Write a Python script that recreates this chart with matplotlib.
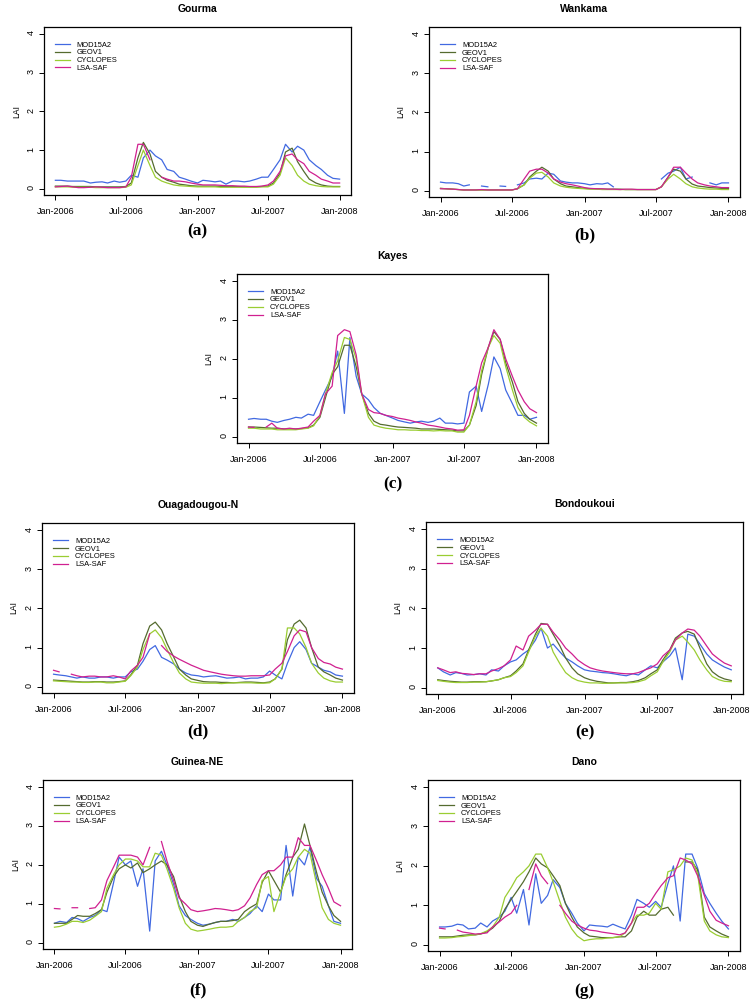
import numpy as np
import pandas as pd
import matplotlib
matplotlib.use('Agg')
import matplotlib.pyplot as plt

plt.rcParams['font.family'] = ['Liberation Sans', 'DejaVu Sans']

nan = np.nan

# semi-monthly sampling, Jan-2006 .. Jan-2008 (49 points)
dates = pd.date_range('2006-01-01', '2008-01-01', freq='SMS')

tickDates = pd.to_datetime(['2006-01-01', '2006-07-01', '2007-01-01', '2007-07-01', '2008-01-01'])
tickLabels = ['Jan-2006', 'Jul-2006', 'Jan-2007', 'Jul-2007', 'Jan-2008']
products = ['MOD15A2', 'GEOV1', 'CYCLOPES', 'LSA-SAF']

# Gourma
gourma_modis = [0.22, 0.22, 0.2, 0.2, 0.2, 0.2, 0.15, 0.17, 0.18, 0.15, 0.2, 0.17,
                0.2, 0.35, 0.3, 0.8, 1.0, 0.85, 0.75, 0.5, 0.45, 0.3, 0.25, 0.2,
                0.15, 0.22, 0.2, 0.18, 0.2, 0.12, 0.2, 0.2, 0.18, 0.2, 0.25, 0.3,
                0.3, 0.5, 0.75, 1.15, 0.95, 1.1, 1.0, 0.75, 0.6, 0.5, 0.35, 0.27, 0.25]
gourma_geov1 = [0.07, 0.07, 0.07, 0.06, 0.06, 0.06, 0.06, 0.05, 0.05, 0.05, 0.05, 0.05,
                0.06, 0.15, 0.8, 1.2, 0.9, 0.45, 0.3, 0.22, 0.17, 0.12, 0.1, 0.08,
                0.07, 0.07, 0.07, 0.07, 0.06, 0.06, 0.06, 0.06, 0.05, 0.05, 0.05, 0.06,
                0.07, 0.15, 0.4, 0.95, 1.05, 0.7, 0.45, 0.25, 0.15, 0.1, 0.07, 0.06, 0.06]
gourma_cyclopes = [0.05, 0.05, 0.05, 0.04, 0.04, 0.04, 0.04, 0.03, 0.03, 0.03, 0.03, 0.03,
                   0.04, 0.1, 0.6, 1.0, 0.6, 0.3, 0.2, 0.15, 0.1, 0.08, 0.07, 0.06,
                   0.05, 0.05, 0.05, 0.05, 0.04, 0.04, 0.04, 0.04, 0.04, 0.04, 0.04, 0.05,
                   0.05, 0.12, 0.35, 0.8, 0.6, 0.35, 0.2, 0.12, 0.08, 0.06, 0.05, 0.05, 0.05]
gourma_lsa = [0.05, 0.06, 0.07, 0.05, 0.03, 0.03, 0.04, 0.05, 0.04, 0.03, 0.03, 0.03,
              0.05, 0.3, 1.15, 1.15, 0.75, nan, 0.3, 0.25, 0.2, 0.2, 0.18, 0.15,
              0.12, 0.1, 0.1, 0.1, 0.09, 0.08, 0.08, 0.07, 0.07, 0.06, 0.06, 0.07,
              0.1, 0.2, 0.45, 0.85, 0.9, 0.75, 0.65, 0.45, 0.35, 0.25, 0.2, 0.15, 0.15]

# Wankama
wankama_modis = [0.22, 0.2, 0.2, 0.18, 0.12, 0.15, nan, 0.12, 0.1, nan, 0.12, 0.11,
                 nan, 0.15, 0.2, 0.3, 0.32, 0.3, 0.45, 0.42, 0.25, 0.22, 0.2, 0.2,
                 0.18, 0.15, 0.18, 0.17, 0.2, 0.1, nan, nan, nan, nan, nan, nan,
                 nan, 0.3, 0.45, 0.5, 0.6, 0.3, 0.35, nan, nan, 0.2, 0.15, 0.2, 0.2]
wankama_geov1 = [0.06, 0.05, 0.04, 0.03, 0.02, 0.02, 0.02, 0.02, 0.02, 0.02, 0.02, 0.02,
                 0.02, 0.05, 0.15, 0.35, 0.5, 0.6, 0.5, 0.3, 0.18, 0.12, 0.1, 0.08,
                 0.06, 0.05, 0.05, 0.04, 0.04, 0.04, 0.04, 0.03, 0.03, 0.03, 0.03, 0.03,
                 0.03, 0.1, 0.35, 0.55, 0.5, 0.3, 0.17, 0.12, 0.1, 0.08, 0.07, 0.06, 0.06]
wankama_cyclopes = [0.06, 0.05, 0.04, 0.03, 0.02, 0.02, 0.02, 0.02, 0.02, 0.02, 0.02, 0.02,
                    0.02, 0.05, 0.15, 0.32, 0.45, 0.47, 0.35, 0.2, 0.12, 0.09, 0.07, 0.06,
                    0.05, 0.04, 0.04, 0.03, 0.03, 0.03, 0.03, 0.03, 0.03, 0.03, 0.03, 0.03,
                    0.03, 0.1, 0.3, 0.42, 0.3, 0.18, 0.1, 0.07, 0.05, 0.04, 0.04, 0.03, 0.03]
wankama_lsa = [0.05, 0.05, 0.04, 0.03, 0.02, 0.02, 0.02, 0.03, 0.02, 0.02, 0.02, 0.02,
               0.02, 0.05, 0.3, 0.5, 0.55, 0.55, 0.45, 0.3, 0.22, 0.18, 0.15, 0.12,
               0.08, 0.06, 0.05, 0.05, 0.04, 0.04, 0.03, 0.04, 0.04, 0.03, 0.03, 0.03,
               0.03, 0.1, 0.35, 0.6, 0.6, 0.45, 0.3, 0.2, 0.15, 0.12, 0.1, 0.08, 0.08]

# Kayes
kayes_modis = [0.45, 0.47, 0.45, 0.45, 0.4, 0.37, 0.42, 0.45, 0.5, 0.48, 0.58, 0.55,
               0.9, 1.2, 1.55, 2.2, 0.6, 2.55, 1.55, 1.1, 0.95, 0.75, 0.6, 0.55,
               0.48, 0.42, 0.38, 0.35, 0.38, 0.4, 0.37, 0.4, 0.48, 0.35, 0.35, 0.33,
               0.35, 1.15, 1.3, 0.65, 1.35, 2.05, 1.75, 1.2, 0.85, 0.55, 0.55, 0.45, 0.5]
kayes_geov1 = [0.25, 0.25, 0.24, 0.23, 0.22, 0.22, 0.2, 0.2, 0.2, 0.21, 0.23, 0.3,
               0.5, 1.0, 1.6, 1.8, 2.35, 2.35, 1.8, 1.1, 0.6, 0.4, 0.32, 0.3,
               0.27, 0.25, 0.24, 0.23, 0.22, 0.2, 0.2, 0.2, 0.19, 0.18, 0.17, 0.15,
               0.15, 0.3, 0.8, 1.6, 2.3, 2.7, 2.5, 1.9, 1.4, 0.9, 0.6, 0.45, 0.35]
kayes_cyclopes = [0.22, 0.22, 0.2, 0.2, 0.2, 0.18, 0.18, 0.18, 0.18, 0.2, 0.22, 0.28,
                  0.55, 1.1, 1.65, 1.95, 2.55, 2.5, 2.0, 1.1, 0.5, 0.3, 0.25, 0.22,
                  0.2, 0.18, 0.18, 0.17, 0.17, 0.16, 0.16, 0.15, 0.16, 0.15, 0.15, 0.12,
                  0.12, 0.3, 0.9, 1.7, 2.3, 2.6, 2.4, 1.8, 1.2, 0.75, 0.5, 0.38, 0.28]
kayes_lsa = [0.25, 0.24, nan, 0.25, 0.35, 0.22, 0.2, 0.22, 0.2, 0.22, 0.25, 0.4,
             0.55, 1.1, 1.3, 2.6, 2.75, 2.7, 2.1, 1.1, 0.7, 0.62, 0.6, 0.55,
             0.52, 0.48, 0.45, 0.42, 0.38, 0.35, 0.3, 0.28, 0.25, 0.22, 0.2, 0.17,
             0.18, 0.55, 1.3, 1.9, 2.3, 2.75, 2.5, 2.0, 1.55, 1.2, 0.9, 0.72, 0.62]

# Ouagadougou-N
ouaga_modis = [0.32, 0.3, 0.28, 0.25, 0.22, 0.25, 0.22, 0.22, 0.25, 0.25, 0.22, 0.25,
               0.25, 0.38, 0.45, 0.65, 0.95, 1.05, 0.75, 0.68, 0.58, 0.45, 0.35, 0.3,
               0.28, 0.25, 0.27, 0.28, 0.25, 0.22, 0.23, 0.25, 0.2, 0.22, 0.22, 0.25,
               0.4, 0.3, 0.2, 0.6, 1.0, 1.15, 0.95, 0.6, 0.5, 0.42, 0.38, 0.3, 0.27]
ouaga_geov1 = [0.17, 0.16, 0.15, 0.14, 0.13, 0.12, 0.12, 0.13, 0.13, 0.12, 0.12, 0.13,
               0.15, 0.3, 0.55, 1.1, 1.55, 1.65, 1.45, 1.1, 0.75, 0.45, 0.3, 0.2,
               0.16, 0.13, 0.12, 0.12, 0.11, 0.11, 0.1, 0.11, 0.12, 0.12, 0.11, 0.1,
               0.12, 0.2, 0.45, 1.2, 1.6, 1.7, 1.5, 1.0, 0.5, 0.38, 0.3, 0.22, 0.17]
ouaga_cyclopes = [0.15, 0.14, 0.13, 0.12, 0.12, 0.11, 0.11, 0.12, 0.12, 0.1, 0.1, 0.12,
                  0.14, 0.28, 0.5, 0.95, 1.35, 1.45, 1.25, 0.95, 0.6, 0.35, 0.2, 0.12,
                  0.1, 0.09, 0.09, 0.09, 0.08, 0.09, 0.1, 0.1, 0.1, 0.1, 0.09, 0.09,
                  0.1, 0.2, 0.45, 1.5, 1.5, 1.35, 1.0, 0.6, 0.35, 0.22, 0.15, 0.12, 0.12]
ouaga_lsa = [0.42, 0.38, nan, 0.32, 0.28, 0.25, 0.27, 0.27, 0.25, 0.25, 0.28, 0.25,
             0.2, 0.4, 0.55, 0.75, 1.35, nan, 1.05, 0.9, 0.78, 0.7, 0.62, 0.55,
             0.48, 0.42, 0.38, 0.35, 0.32, 0.3, 0.28, 0.27, 0.27, 0.28, 0.28, 0.28,
             0.3, 0.45, 0.6, 0.9, 1.3, 1.45, 1.4, 1.0, 0.72, 0.62, 0.58, 0.5, 0.45]

# Bondoukoui
bond_modis = [0.5, 0.4, 0.32, 0.38, 0.36, 0.32, 0.33, 0.35, 0.32, 0.45, 0.42, 0.55,
              0.65, 0.7, 0.85, 0.95, 1.2, 1.5, 1.0, 1.1, 0.9, 0.75, 0.65, 0.55,
              0.45, 0.42, 0.4, 0.38, 0.37, 0.35, 0.32, 0.3, 0.35, 0.32, 0.45, 0.55,
              0.5, 0.65, 0.8, 1.0, 0.2, 1.35, 1.3, 1.1, 0.85, 0.7, 0.6, 0.52, 0.45]
bond_geov1 = [0.2, 0.18, 0.16, 0.15, 0.14, 0.14, 0.15, 0.15, 0.15, 0.17, 0.2, 0.25,
              0.3, 0.42, 0.6, 0.95, 1.35, 1.62, 1.6, 1.35, 1.05, 0.75, 0.5, 0.35,
              0.25, 0.2, 0.16, 0.14, 0.12, 0.12, 0.13, 0.13, 0.15, 0.18, 0.25, 0.35,
              0.45, 0.7, 0.95, 1.25, 1.38, 1.42, 1.35, 1.0, 0.6, 0.4, 0.28, 0.22, 0.18]
bond_cyclopes = [0.18, 0.16, 0.14, 0.13, 0.13, 0.13, 0.14, 0.14, 0.15, 0.17, 0.2, 0.25,
                 0.28, 0.38, 0.55, 0.9, 1.3, 1.5, 1.3, 0.9, 0.6, 0.38, 0.25, 0.18,
                 0.14, 0.12, 0.12, 0.11, 0.11, 0.12, 0.12, 0.12, 0.13, 0.15, 0.2, 0.3,
                 0.4, 0.65, 0.9, 1.2, 1.3, 1.15, 0.95, 0.7, 0.45, 0.28, 0.2, 0.16, 0.15]
bond_lsa = [0.5, 0.45, 0.38, 0.4, 0.36, 0.35, 0.33, 0.35, 0.35, 0.42, 0.48, 0.55,
            0.7, 1.05, 0.95, 1.3, 1.45, 1.6, 1.6, 1.4, 1.2, 1.0, 0.85, 0.7,
            0.58, 0.5, 0.45, 0.42, 0.4, 0.38, 0.36, 0.35, 0.35, 0.38, 0.45, 0.5,
            0.6, 0.8, 0.95, 1.2, 1.38, 1.48, 1.45, 1.3, 1.05, 0.85, 0.72, 0.62, 0.55]

# Guinea-NE
guinea_modis = [0.5, 0.55, 0.52, 0.65, 0.62, 0.55, 0.65, 0.7, 0.85, 0.8, 1.55, 2.2,
                2.0, 2.1, 1.45, 1.9, 0.3, 2.1, 2.35, 2.0, 1.5, 0.95, 0.7, 0.6,
                0.5, 0.45, 0.48, 0.52, 0.55, 0.55, 0.6, 0.55, 0.65, 0.75, 0.95, 0.8,
                1.25, 1.1, 1.1, 2.5, 1.2, 2.2, 2.0, 2.45, 1.65, 1.45, 0.95, 0.55, 0.5]
guinea_geov1 = [0.5, 0.5, 0.5, 0.6, 0.7, 0.68, 0.68, 0.75, 0.85, 1.3, 1.7, 1.9,
                2.0, 1.92, 2.05, 1.8, 1.9, 2.0, 2.1, 2.0, 1.7, 1.2, 0.8, 0.55,
                0.45, 0.42, 0.48, 0.52, 0.55, 0.55, 0.57, 0.6, 0.8, 0.9, 1.0, 1.55,
                1.85, 1.6, 1.3, 1.75, 2.2, 2.4, 3.05, 2.5, 1.8, 1.3, 0.95, 0.7, 0.55]
guinea_cyclopes = [0.4, 0.42, 0.48, 0.55, 0.55, 0.52, 0.58, 0.68, 0.8, 1.4, 1.75, 2.0,
                   2.15, 2.15, 2.1, 1.95, 1.95, 2.3, 2.25, 1.9, 1.4, 0.9, 0.5, 0.35,
                   0.3, 0.32, 0.35, 0.38, 0.4, 0.4, 0.42, 0.55, 0.65, 0.8, 0.9, 1.6,
                   1.7, 0.8, 1.3, 1.7, 1.9, 2.2, 2.4, 2.3, 1.5, 0.9, 0.6, 0.5, 0.45]
guinea_lsa = [0.88, 0.87, nan, 0.9, 0.9, nan, 0.88, 0.9, 1.1, 1.6, 1.95, 2.25,
              2.25, 2.25, 2.2, 2.0, 2.45, nan, 2.6, 2.1, 1.6, 1.15, 1.0, 0.85,
              0.8, 0.82, 0.85, 0.88, 0.87, 0.85, 0.82, 0.85, 0.95, 1.15, 1.5, 1.75,
              1.85, 1.85, 2.0, 2.2, 2.2, 2.7, 2.5, 2.5, 2.1, 1.75, 1.4, 1.05, 0.95]

# Dano
dano_modis = [0.45, 0.45, 0.47, 0.52, 0.5, 0.4, 0.42, 0.55, 0.45, 0.6, 0.7, 0.85,
              1.2, 0.8, 1.4, 0.5, 1.8, 1.05, 1.25, 1.65, 1.45, 1.05, 0.8, 0.55,
              0.35, 0.5, 0.48, 0.47, 0.45, 0.52, 0.45, 0.4, 0.75, 1.15, 1.05, 0.95,
              1.1, 0.95, 1.55, 2.0, 0.6, 2.3, 2.3, 1.95, 1.3, 1.05, 0.8, 0.6, 0.4]
dano_geov1 = [0.2, 0.2, 0.2, 0.22, 0.24, 0.25, 0.25, 0.27, 0.33, 0.42, 0.6, 0.9,
              1.15, 1.35, 1.6, 1.85, 2.2, 2.05, 1.95, 1.75, 1.5, 1.05, 0.7, 0.45,
              0.3, 0.22, 0.2, 0.18, 0.18, 0.18, 0.2, 0.2, 0.35, 0.7, 0.85, 0.75,
              0.75, 0.9, 0.95, 0.75, nan, 2.1, 2.1, 1.9, 0.7, 0.45, 0.35, 0.27, 0.2]
dano_cyclopes = [0.17, 0.17, 0.18, 0.2, 0.21, 0.23, 0.25, 0.28, 0.35, 0.45, 0.7, 1.2,
                 1.45, 1.7, 1.85, 2.0, 2.3, 2.3, 1.95, 1.6, 1.1, 0.7, 0.4, 0.22,
                 0.1, 0.13, 0.15, 0.15, 0.17, 0.18, 0.2, 0.3, 0.55, 0.75, 0.75, 0.8,
                 1.05, 0.9, 1.85, 1.9, 2.0, 2.2, 2.15, 1.8, 0.6, 0.35, 0.25, 0.2, 0.18]
dano_lsa = [0.42, 0.4, nan, 0.37, 0.32, 0.3, 0.27, 0.28, 0.3, 0.45, 0.58, 0.7,
            0.8, 1.0, nan, 1.4, 2.05, 1.75, 1.55, nan, 1.0, 0.8, 0.6, 0.5,
            0.42, 0.37, 0.35, 0.32, 0.3, 0.28, 0.25, 0.3, 0.55, 0.95, 0.95, 1.05,
            1.3, 1.5, 1.7, 1.75, 2.2, 2.15, 2.05, 1.75, 1.25, 0.85, 0.62, 0.55, 0.48]

colors = ['#4169E1', '#556B2F', '#9ACD32', '#D02090']

W, H = 754, 1000
fig = plt.figure(figsize=(W / 100, H / 100), dpi=100)


def plotSite(box, title, letter, series, letterOffset=-28):
	# box = (left, top, right, bottom) in pixels
	left, top, right, bottom = box
	ax = fig.add_axes([left / W, 1 - bottom / H, (right - left) / W, (bottom - top) / H])

	for values, name, color in zip(series, products, colors):
		ax.plot(dates, values, color=color, lw=0.9, label=name)

	span = dates[-1] - dates[0]
	ax.set_xlim(dates[0] - span * 0.04, dates[-1] + span * 0.04)
	ax.set_ylim(-0.16, 4.18)
	ax.set_xticks(tickDates)
	ax.set_xticklabels(tickLabels)
	ax.set_yticks([0, 1, 2, 3, 4])
	ax.tick_params(direction='out', length=3.7, width=0.7, labelsize=6.5, pad=5)
	ax.tick_params(axis='y', labelrotation=90, pad=2.5)
	for s in ax.spines.values():
		s.set_linewidth(0.9)

	ax.set_ylabel('LAI', fontsize=6.2)
	ax.yaxis.set_label_coords(-0.075, 0.5)
	ax.set_title(title, fontsize=7.5, fontweight='bold', pad=10.5)

	ax.legend(loc='upper left', bbox_to_anchor=(0.036, 0.915), frameon=False,
			  fontsize=5.4, handlelength=2.0, handletextpad=0.9,
			  labelspacing=0.08, borderpad=0, borderaxespad=0)

	ax.annotate(letter, xy=(0.5, 0), xycoords='axes fraction',
				xytext=(0, letterOffset), textcoords='offset points',
				ha='center', va='center', fontsize=12.5, fontweight='bold',
				family=['Liberation Serif', 'DejaVu Serif'])
	return ax


plotSite((44, 27, 351, 195), 'Gourma', '(a)',
		 [gourma_modis, gourma_geov1, gourma_cyclopes, gourma_lsa], -26)
plotSite((429, 27, 740, 197), 'Wankama', '(b)',
		 [wankama_modis, wankama_geov1, wankama_cyclopes, wankama_lsa])
plotSite((237, 274, 548, 443), 'Kayes', '(c)',
		 [kayes_modis, kayes_geov1, kayes_cyclopes, kayes_lsa], -30)
plotSite((42, 523, 354, 693), 'Ouagadougou-N', '(d)',
		 [ouaga_modis, ouaga_geov1, ouaga_cyclopes, ouaga_lsa])
plotSite((426, 522, 743, 694), 'Bondoukoui', '(e)',
		 [bond_modis, bond_geov1, bond_cyclopes, bond_lsa])
plotSite((43, 780, 352, 949), 'Guinea-NE', '(f)',
		 [guinea_modis, guinea_geov1, guinea_cyclopes, guinea_lsa], -30)
plotSite((428, 780, 740, 951), 'Dano', '(g)',
		 [dano_modis, dano_geov1, dano_cyclopes, dano_lsa], -29)

fig.savefig('out.png', dpi=100)
